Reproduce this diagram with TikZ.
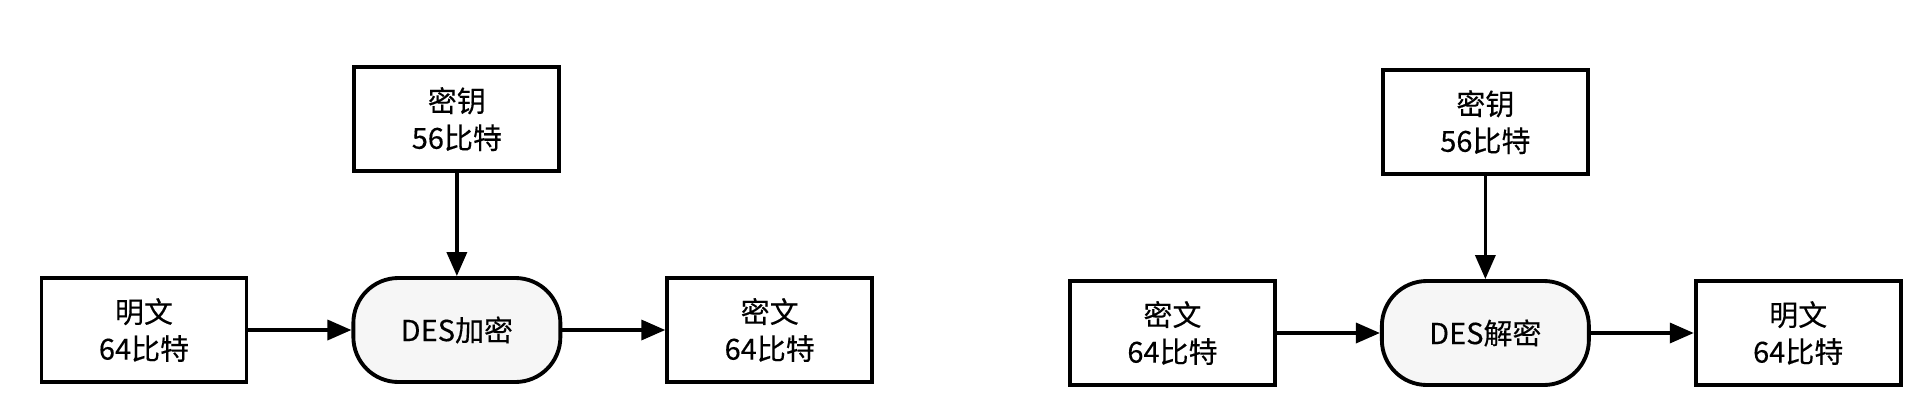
\documentclass[tikz,border=0pt]{standalone}
\usepackage{fontspec}
\setmainfont[FakeBold=0.3]{Noto Sans CJK SC}
\usepackage{tikz}
\usetikzlibrary{arrows.meta, positioning}

\begin{document}
\begin{tikzpicture}[
		node distance=2.06cm and 2.06cm,
		every node/.style={font=\fontsize{16.5pt}{21pt}\selectfont},
		block/.style={
			rectangle,
			draw,
			line width=2.2pt,
			align=center,
			minimum width=4.1cm,
			minimum height=2.08cm,
			fill=white
		},
		process/.style={
			rectangle,
			draw,
			rounded corners=0.9cm,
			line width=2.2pt,
			align=center,
			minimum width=4.14cm,
			minimum height=2.08cm,
			fill=gray!7
		},
		arrow/.style={
			-{Triangle[length=0.48cm,width=0.4cm]},
			line width=2pt
		}
		]
		
		\useasboundingbox (0,0) rectangle (38.64,8.04);
		
		% Encryption
		\node[block] (plainA) at (2.88,1.44) {明文\\64比特};
		\node[process, right=of plainA] (encrypt) {DES加密};
		\node[block, right=of encrypt] (cipherA) {密文\\64比特};
		\node[block, above=of encrypt] (keyA) {密钥\\56比特};
		
		\draw[arrow] (plainA) -- (encrypt);
		\draw[arrow] (encrypt) -- (cipherA);
		\draw[arrow] (keyA) -- (encrypt);
		
		% Decryption
		\node[block] (cipherB) at (23.45,1.38) {密文\\64比特};
		\node[process, right=of cipherB] (decrypt) {DES解密};
		\node[block, right=of decrypt] (plainB) {明文\\64比特};
		\node[block, above=of decrypt] (keyB) {密钥\\56比特};
		
		\draw[arrow] (cipherB) -- (decrypt);
		\draw[arrow] (decrypt) -- (plainB);
		\draw[arrow] (keyB) -- (decrypt);
	\end{tikzpicture}
\end{document}
